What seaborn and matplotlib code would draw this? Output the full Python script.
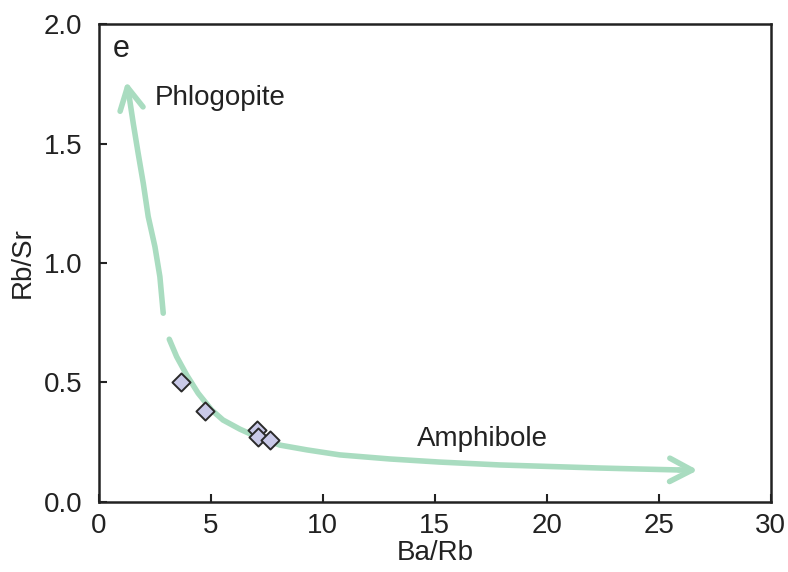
import matplotlib
matplotlib.use("Agg")
import matplotlib.pyplot as plt
import seaborn as sns
import pandas as pd

# Sample data
ba_rb = [3.66, 4.73, 7.05, 7.10, 7.63]
rb_sr = [0.50, 0.38, 0.30, 0.27, 0.26]

# Phlogopite trend (drawn from bottom upward)
phl_x = [2.87, 2.72, 2.50, 2.20, 1.98, 1.75, 1.53, 1.35]
phl_y = [0.790, 0.943, 1.068, 1.194, 1.333, 1.459, 1.585, 1.696]

# Amphibole trend
amp_x = [3.14, 3.47, 3.92, 4.43, 5.03, 5.54, 6.29, 6.875, 8.08, 9.29, 10.76, 12.99,
         15.22, 17.9, 22.4, 25.9]
amp_y = [0.681, 0.608, 0.531, 0.455, 0.385, 0.343, 0.305, 0.280, 0.238, 0.218, 0.197,
         0.180, 0.167, 0.155, 0.142, 0.134]

sns.set_theme(style="white")
plt.rcParams['font.family'] = ['Liberation Sans', 'DejaVu Sans']

fig = plt.figure(figsize=(7.88, 5.72), dpi=100)
ax = fig.add_axes([0.1256, 0.1224, 0.8524, 0.8356])

green = "#a9dcc0"
sns.lineplot(x=phl_x, y=phl_y, sort=False, ax=ax, color=green, lw=4, estimator=None)
sns.lineplot(x=amp_x, y=amp_y, sort=False, ax=ax, color=green, lw=4, estimator=None)
astyle = '->,head_length=0.8,head_width=0.42'
ax.annotate('', xy=(1.22, 1.76), xytext=(phl_x[-1], phl_y[-1]),
            arrowprops=dict(arrowstyle=astyle, color=green, lw=4, mutation_scale=20,
                            shrinkA=0, shrinkB=0))
ax.annotate('', xy=(26.75, 0.133), xytext=(amp_x[-1], amp_y[-1]),
            arrowprops=dict(arrowstyle=astyle, color=green, lw=4, mutation_scale=20,
                            shrinkA=0, shrinkB=0))

df = pd.DataFrame({"Ba/Rb": ba_rb, "Rb/Sr": rb_sr})
sns.scatterplot(data=df, x="Ba/Rb", y="Rb/Sr", ax=ax, marker="D", s=85,
                color="#c9c9e8", edgecolor="#2a2a2a", linewidth=1.4, zorder=5)

tc = '#222222'
ax.set_xlim(0, 30)
ax.set_ylim(0, 2.0)
ax.set_xticks([0, 5, 10, 15, 20, 25, 30])
ax.set_yticks([0.0, 0.5, 1.0, 1.5, 2.0])
ax.set_yticklabels(["0.0", "0.5", "1.0", "1.5", "2.0"])
ax.tick_params(direction='in', length=6, width=1.5, labelsize=20, colors=tc,
               left=True, bottom=True)
ax.tick_params(axis='y', pad=12)
ax.tick_params(axis='x', pad=8)
for s in ax.spines.values():
    s.set_linewidth(1.8)
    s.set_color(tc)
ax.set_xlabel("Ba/Rb", fontsize=20, color=tc, labelpad=1)
ax.set_ylabel("Rb/Sr", fontsize=20, color=tc, labelpad=6)

ax.text(1.0, 1.895, "e", fontsize=22, color=tc, ha='center', va='center')
ax.text(2.5, 1.69, "Phlogopite", fontsize=20, color=tc, ha='left', va='center')
ax.text(14.2, 0.265, "Amphibole", fontsize=20, color=tc, ha='left', va='center')

fig.savefig("out.png", dpi=100)
